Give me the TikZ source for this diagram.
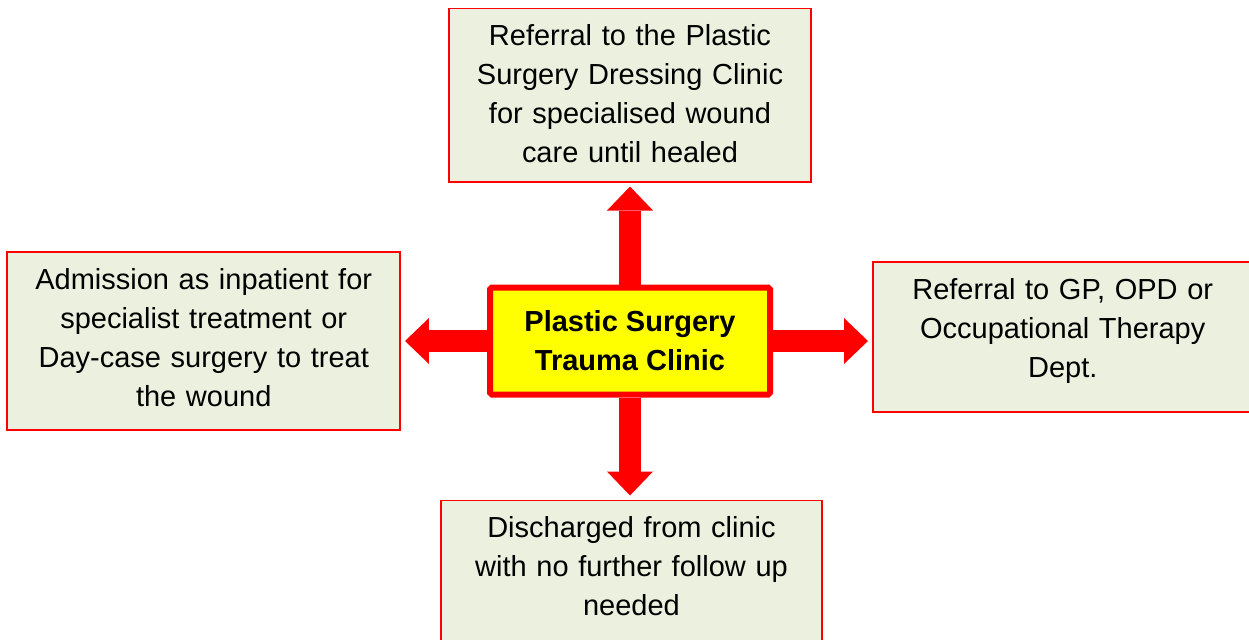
\documentclass[tikz,border=0pt]{standalone}
\usepackage{fontspec}
\setmainfont{Liberation Sans}
\usetikzlibrary{arrows.meta,positioning}
\definecolor{boxolive}{RGB}{235,241,222}
\definecolor{hubyellow}{RGB}{255,255,0}
\definecolor{linered}{RGB}{255,0,0}

\begin{document}
\begin{tikzpicture}[
  box/.style={rectangle, draw=linered, fill=boxolive, line width=0.03cm, inner xsep=0pt, inner ysep=0.22cm, text height=0.52cm, align=center, font=\fontsize{16.5}{22.2}\selectfont},
  hub/.style={rectangle, rounded corners=1pt, draw=linered, fill=hubyellow, line width=0.12cm, minimum width=5.6cm, minimum height=2.14cm, align=center, font=\fontsize{16.5}{22.2}\selectfont\bfseries},
  arr/.style={-{Triangle[length=0.48cm, width=0.92cm, line width=0pt]}, draw=linered, line width=0.44cm, shorten >=0.08cm}
]
\clip (-12.6,-5.96) rectangle (12.38,6.82);
\node[hub] (hub) {Plastic Surgery\\Trauma Clinic};
\node[box, text width=7.24cm, text depth=2.5cm, above=2.04cm of hub] (top) {Referral to the Plastic\\Surgery Dressing Clinic\\for specialised wound\\care until healed};
\node[box, text width=7.86cm, text depth=2.6cm, left=1.72cm of hub] (lft) {Admission as inpatient for\\specialist treatment or\\Day-case surgery to treat\\the wound};
\node[box, text width=7.6cm, text depth=2.04cm, right=1.98cm of hub, yshift=0.08cm] (rgt) {Referral to GP, OPD or\\Occupational Therapy\\Dept.};
\node[box, text width=7.62cm, text depth=2.5cm, below=2.04cm of hub, xshift=0.03cm] (bot) {Discharged from clinic\\with no further follow up\\needed};

\draw[arr] (hub) -- (top);
\draw[arr] (hub) -- (lft);
\draw[arr] (hub.east) -- (hub.east -| rgt.west);
\draw[arr] (hub.south) -- (hub.south |- bot.north);
\end{tikzpicture}
\end{document}
